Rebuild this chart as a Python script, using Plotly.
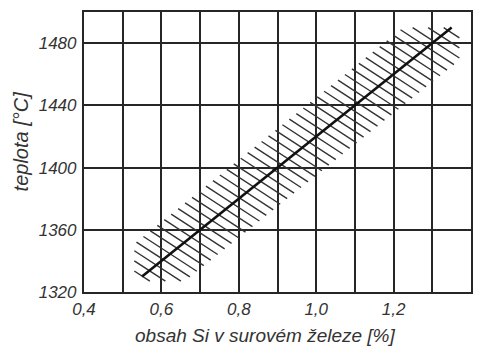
import plotly.graph_objects as go

# ---- data ----
si_trend = [0.55, 1.35]          # % Si, ends of the trend line
temp_trend = [1330, 1490]        # °C at those ends
band_si_limits = [0.53, 1.37]    # % Si, left/right cut of the hatched band
band_temp_limits = [1327, 1490]  # °C, bottom/top cut of the hatched band
band_half_width = 25             # °C, half width of the band around the trend
hatch_slope = -162               # °C per % Si, direction of hatch strokes
hatch_step = 6.5                 # spacing of hatch strokes (intercept step)

x_tick_vals = [0.4, 0.5, 0.6, 0.7, 0.8, 0.9, 1.0, 1.1, 1.2, 1.3, 1.4]
x_tick_text = ["0,4", "", "0,6", "", "0,8", "", "1,0", "", "1,2", "", "1,4"]
y_tick_vals = [1320, 1360, 1400, 1440, 1480]
y_tick_text = ["1320", "1360", "1400", "1440", "1480"]

x_title = "obsah Si v surovém železe [%]"
y_title = "teplota [°C]"

# ---- derived geometry ----
m = (temp_trend[1] - temp_trend[0]) / (si_trend[1] - si_trend[0])
b = temp_trend[0] - m * si_trend[0]
h = band_half_width
hs = hatch_slope
smin, smax = band_si_limits
tmin, tmax = band_temp_limits

hx, hy = [], []
a = tmin - hs * smin
a_end = tmax - hs * smax + 50
while a <= a_end:
    lo = max((a - b - h) / (m - hs), smin, (a - tmax) / (-hs))
    hi = min((a - b + h) / (m - hs), smax, (a - tmin) / (-hs))
    if hi - lo > 1e-3:
        hx += [lo, hi, None]
        hy += [a + hs * lo, a + hs * hi, None]
    a += hatch_step

ink = "#262626"
font_family = "Liberation Sans, Arial, sans-serif"

fig = go.Figure()
fig.add_trace(go.Scatter(x=hx, y=hy, mode="lines",
                         line=dict(color="#333333", width=1.4),
                         hoverinfo="skip", showlegend=False))
fig.add_trace(go.Scatter(x=si_trend, y=temp_trend, mode="lines",
                         line=dict(color="#111111", width=2.6),
                         showlegend=False))

fig.update_layout(
    width=480, height=351,
    margin=dict(l=84, r=7, t=12, b=59),
    paper_bgcolor="white", plot_bgcolor="white",
    showlegend=False,
    font=dict(family=font_family, color="#333333"),
    xaxis=dict(range=[0.4, 1.4], tickvals=x_tick_vals, ticktext=x_tick_text,
               showgrid=True, gridcolor=ink, gridwidth=1.6,
               showline=True, linecolor=ink, linewidth=2.2, mirror=True,
               zeroline=False, ticks="",
               tickfont=dict(size=17, style="italic", color="#333333")),
    yaxis=dict(range=[1320, 1500], tickvals=y_tick_vals, ticktext=y_tick_text,
               showgrid=True, gridcolor=ink, gridwidth=1.6,
               showline=True, linecolor=ink, linewidth=2.2, mirror=True,
               zeroline=False, ticks="", ticklabelstandoff=2,
               tickfont=dict(size=17, style="italic", color="#333333")),
    annotations=[
        dict(text=x_title, xref="paper", yref="paper", x=0.47, y=-0.154,
             xanchor="center", yanchor="middle", showarrow=False,
             font=dict(size=19, style="italic", color="#333333")),
        dict(text=y_title, xref="paper", yref="paper", x=-0.162, y=0.539,
             xanchor="center", yanchor="middle", showarrow=False, textangle=-90,
             font=dict(size=20, style="italic", color="#333333")),
    ],
)

fig.write_html("out.html")
